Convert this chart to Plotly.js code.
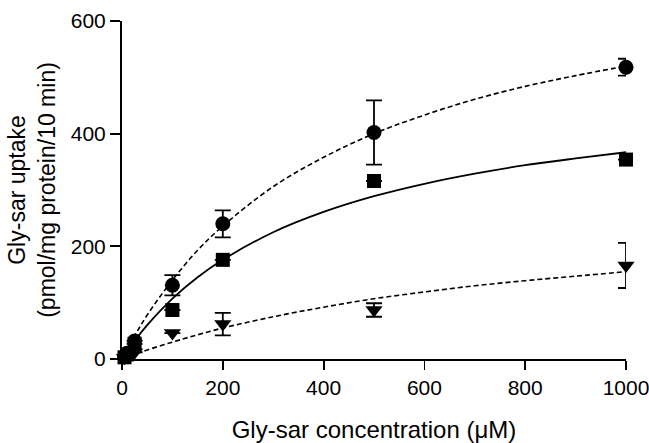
<!DOCTYPE html>
<html>
<head>
<meta charset="utf-8">
<script src="https://cdn.plot.ly/plotly-3.0.1.min.js"></script>
<style>html,body{margin:0;padding:0;background:#fff;}#chart{width:649px;height:443px;}</style>
</head>
<body>
<div id="chart"></div>
<script>
// Measured concentrations (µM)
var conc = [5, 10, 25, 100, 200, 500, 1000];
// Circles (upper dashed fit)
var circleVals = [4, 10, 32, 131, 240, 402, 518];
var circleErr  = [0, 0, 0, 18, 24, 57, 15];
// Squares (solid fit)
var squareVals = [3, 8, 27, 87, 176, 316, 354];
var squareErr  = [0, 0, 0, 0, 0, 0, 0];
// Triangles (lower dashed fit)
var triVals = [2, 5, 12, 46, 62, 87, 166];
var triErr  = [0, 0, 0, 0, 20, 12, 40];

// Fitted curves
var curveX = [0, 25, 50, 100, 150, 200, 300, 400, 500, 600, 700, 800, 900, 1000];
var circleCurve = [0, 41, 78, 140, 193, 236, 306, 358, 400, 433, 461, 484, 503, 520];
var squareCurve = [0, 32, 60, 107, 145, 176, 225, 261, 289, 311, 329, 344, 356, 367];
var triCurve    = [0, 8, 16, 30, 43, 55, 75, 92, 107, 119, 130, 139, 147, 155];

var xTicks = [0, 200, 400, 600, 800, 1000];
var yTicks = [0, 200, 400, 600];

var errStyle = function(arr){ return {type:'data', array:arr, visible:true, color:'#000', thickness:1.8, width:8}; };

var traces = [
  {x:curveX, y:circleCurve, mode:'lines', line:{color:'#000', width:1.6, dash:'5px,3px', shape:'spline'}, showlegend:false},
  {x:curveX, y:squareCurve, mode:'lines', line:{color:'#000', width:1.8, shape:'spline'}, showlegend:false},
  {x:curveX, y:triCurve, mode:'lines', line:{color:'#000', width:1.6, dash:'5px,3px', shape:'spline'}, showlegend:false},
  {x:conc, y:circleVals, mode:'markers', marker:{symbol:'circle', size:15, color:'#000'}, error_y:errStyle(circleErr), showlegend:false, cliponaxis:false},
  {x:conc, y:squareVals, mode:'markers', marker:{symbol:'square', size:14, color:'#000'}, error_y:errStyle(squareErr), showlegend:false, cliponaxis:false},
  {x:conc, y:triVals, mode:'markers', marker:{symbol:'triangle-down', size:15, color:'#000'}, error_y:errStyle(triErr), showlegend:false, cliponaxis:false}
];

var fontFam = 'Arial, "Liberation Sans", sans-serif';
var layout = {
  width:649, height:443,
  margin:{l:122, r:23, t:21, b:84},
  paper_bgcolor:'#fff', plot_bgcolor:'#fff',
  font:{family:fontFam, size:22, color:'#000'},
  showlegend:false,
  xaxis:{
    range:[0,1000], tickvals:xTicks, ticktext:xTicks.map(String),
    showgrid:false, zeroline:false, showline:true, linewidth:2, linecolor:'#000',
    ticks:'outside', ticklen:9, tickwidth:1.8, tickcolor:'#000',
    tickfont:{size:21, family:fontFam}, ticklabeloverflow:'allow',
    title:{text:'Gly-sar concentration (\u03bcM)', font:{size:24, family:fontFam}, standoff:24},
    automargin:false
  },
  yaxis:{
    range:[0,600], tickvals:yTicks, ticktext:yTicks.map(String),
    showgrid:false, zeroline:false, showline:true, linewidth:2, linecolor:'#000',
    ticks:'outside', ticklen:10, tickwidth:1.8, tickcolor:'#000',
    tickfont:{size:21, family:fontFam}, ticklabeloverflow:'allow',
    title:{text:'Gly-sar uptake<br>(pmol/mg protein/10 min)', font:{size:23, family:fontFam}, standoff:9},
    automargin:false
  }
};

Plotly.newPlot('chart', traces, layout, {staticPlot:true, displayModeBar:false});
</script>
</body>
</html>
